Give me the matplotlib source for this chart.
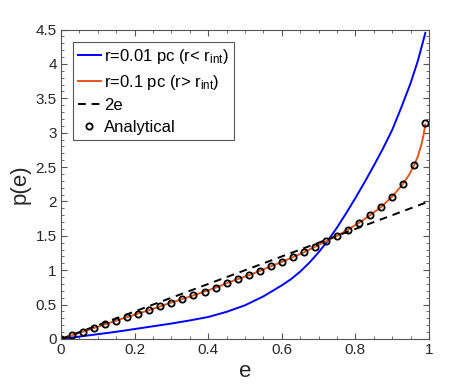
import numpy as np
import matplotlib
matplotlib.use("Agg")
import matplotlib.pyplot as plt
from matplotlib.ticker import MultipleLocator

plt.rcParams['font.family'] = ['Liberation Sans', 'DejaVu Sans']
plt.rcParams['mathtext.fontset'] = 'custom'
plt.rcParams['mathtext.rm'] = 'Liberation Sans'
plt.rcParams['mathtext.it'] = 'Liberation Sans'

# Blue curve: r=0.01 pc
blue_e = [0, 0.05, 0.1, 0.15, 0.2, 0.25, 0.3, 0.35, 0.4, 0.45, 0.5, 0.55,
          0.6, 0.625, 0.65, 0.675, 0.7, 0.725, 0.75, 0.775, 0.8, 0.825, 0.85,
          0.875, 0.9, 0.925, 0.95, 0.97, 0.99]
blue_p = [0.0, 0.035, 0.07, 0.105, 0.145, 0.185, 0.225, 0.27, 0.32, 0.395,
          0.49, 0.62, 0.78, 0.87, 0.98, 1.11, 1.26, 1.43, 1.62, 1.83, 2.05,
          2.28, 2.52, 2.77, 3.04, 3.37, 3.72, 4.05, 4.45]

# Analytical points (and orange curve r=0.1 pc)
ana_e = [0.00, 0.03, 0.06, 0.09, 0.12, 0.15, 0.18, 0.21, 0.24, 0.27, 0.30,
         0.33, 0.36, 0.39, 0.42, 0.45, 0.48, 0.51, 0.54, 0.57, 0.60, 0.63,
         0.66, 0.69, 0.72, 0.75, 0.78, 0.81, 0.84, 0.87, 0.90, 0.93, 0.96, 0.99]
ana_p = [0.0, 0.054, 0.106, 0.16, 0.214, 0.267, 0.32, 0.37, 0.42, 0.475, 0.53,
         0.58, 0.635, 0.69, 0.746, 0.81, 0.87, 0.925, 0.99, 1.056, 1.12, 1.19,
         1.26, 1.34, 1.42, 1.50, 1.59, 1.69, 1.80, 1.92, 2.07, 2.26, 2.53, 3.14]

orange_e = ana_e[:-2] + [0.945, 0.96, 0.97, 0.98, 0.985, 0.99]
orange_p = ana_p[:-2] + [2.38, 2.53, 2.66, 2.84, 2.96, 3.12]

line_e = [0, 1]
line_p = [0, 2]

fig = plt.figure(figsize=(4.74, 3.86), dpi=100)
ax = fig.add_axes([61/474, 47/386, 368/474, 309.5/386])

ax.plot(blue_e, blue_p, color='#0000FF', lw=1.4,
        label=r'r=0.01 pc (r< r$_{\rm int}$)')
ax.plot(orange_e, orange_p, color='#E0561B', lw=1.4,
        label=r'r=0.1 pc (r> r$_{\rm int}$)')
ax.plot(line_e, line_p, color='black', lw=1.4, ls=(0, (4, 3)), label='2e')
ax.plot(ana_e, ana_p, ls='none', marker='o', ms=4.5, mfc='none', mec='black',
        mew=1.3, label='Analytical')

ax.set_xlim(0, 1)
ax.set_ylim(0, 4.5)
ax.xaxis.set_minor_locator(MultipleLocator(0.05))
ax.yaxis.set_minor_locator(MultipleLocator(0.1))
ax.set_xticks([0, 0.2, 0.4, 0.6, 0.8, 1.0])
ax.set_xticklabels(['0', '0.2', '0.4', '0.6', '0.8', '1'])
ax.set_yticks(np.arange(0, 4.51, 0.5))
ax.set_yticklabels(['0', '0.5', '1', '1.5', '2', '2.5', '3', '3.5', '4', '4.5'])

spc = '#555555'
for s in ax.spines.values():
    s.set_color(spc)
    s.set_linewidth(0.8)
ax.tick_params(which='both', direction='in', top=True, right=True, color=spc,
               labelcolor='#262626', labelsize=11, pad=3)
ax.tick_params(which='major', length=4)
ax.tick_params(which='minor', length=2)

ax.set_xlabel('e', fontsize=16, color='#262626', labelpad=3)
ax.set_ylabel('p(e)', fontsize=16, color='#262626', labelpad=4)

leg = ax.legend(loc='upper left', bbox_to_anchor=(0.032, 0.96), borderaxespad=0,
                fontsize=12, handlelength=1.4, handletextpad=0.2,
                labelspacing=0.4, borderpad=0.3, fancybox=False, framealpha=1,
                edgecolor=spc)
leg.get_frame().set_linewidth(0.8)

fig.savefig('out.png', dpi=100)
